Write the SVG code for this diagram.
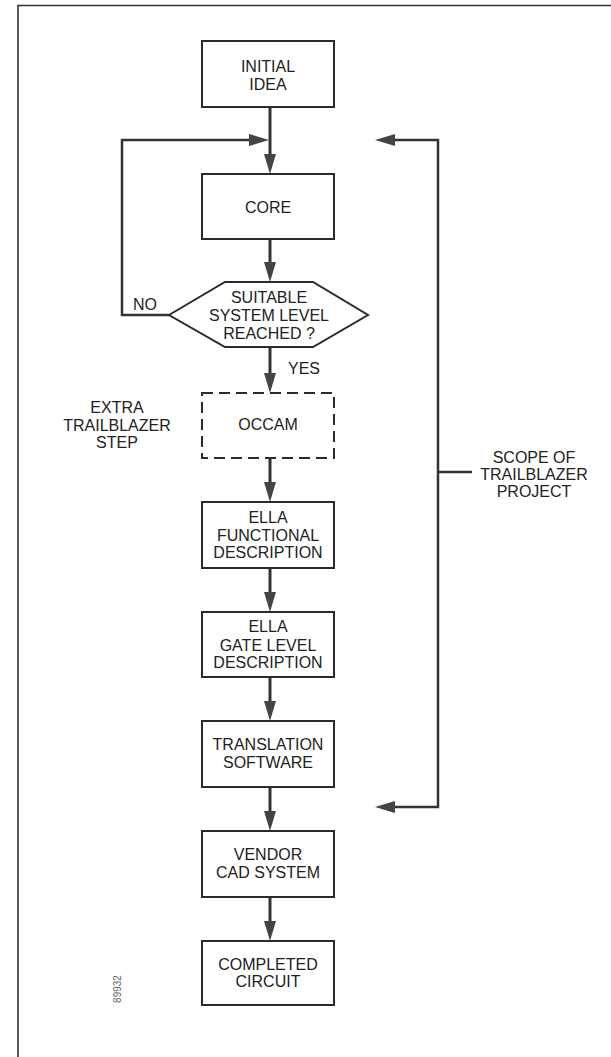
<svg xmlns="http://www.w3.org/2000/svg" width="611" height="1057" viewBox="0 0 611 1057">
  <defs>
    <style>
      .box { fill: #fff; stroke: #2a2a2a; stroke-width: 2; }
      .dash { fill: #fff; stroke: #2a2a2a; stroke-width: 2; stroke-dasharray: 11 6; }
      .lbl { font-family: "Liberation Sans", Arial, sans-serif; font-size: 16px; fill: #222; text-anchor: middle; }
      .flow { fill: none; stroke: #333; stroke-width: 3; }
      .thin { fill: none; stroke: #333; stroke-width: 2.5; }
      .frame { fill: none; stroke: #333; stroke-width: 1.6; }
    </style>
    <marker id="head" viewBox="0 0 20 12" refX="12" refY="6" markerWidth="20" markerHeight="12" markerUnits="userSpaceOnUse" orient="auto">
      <path d="M0,0 L20,6 L0,12 z" fill="#444"/>
    </marker>
  </defs>

  <rect width="611" height="1057" fill="#fff"/>

  <!-- page frame (top and left rules) -->
  <g id="frame">
    <path class="frame" d="M18,1057 V5.5 H611"/>
  </g>

  <!-- connectors -->
  <g id="connectors">
    <path class="flow" d="M270,107 V166" marker-end="url(#head)"/>
    <path class="flow" d="M270,239 V274" marker-end="url(#head)"/>
    <path class="flow" d="M270,347 V385" marker-end="url(#head)"/>
    <path class="flow" d="M270,458 V494" marker-end="url(#head)"/>
    <path class="flow" d="M270,568 V604" marker-end="url(#head)"/>
    <path class="flow" d="M270,677 V713" marker-end="url(#head)"/>
    <path class="flow" d="M270,787 V823" marker-end="url(#head)"/>
    <path class="flow" d="M270,897 V933" marker-end="url(#head)"/>
    <!-- NO loop back above CORE -->
    <path class="thin" d="M169,315 H122 V140 H261" marker-end="url(#head)"/>
    <!-- scope bracket -->
    <path class="thin" d="M438,473 V140 H383" marker-end="url(#head)"/>
    <path class="thin" d="M438,473 V807 H383" marker-end="url(#head)"/>
    <path class="thin" d="M438,472 H472"/>
  </g>

  <g id="initial-idea">
    <rect class="box" x="202" y="41" width="132" height="66"/>
    <text class="lbl" x="268" y="72">INITIAL</text>
    <text class="lbl" x="268" y="90">IDEA</text>
  </g>

  <g id="core">
    <rect class="box" x="202" y="174" width="132" height="65"/>
    <text class="lbl" x="268" y="213">CORE</text>
  </g>

  <g id="decision">
    <polygon class="box" points="169,315 225,282 313,282 368,315 313,347 225,347"/>
    <text class="lbl" x="269" y="303">SUITABLE</text>
    <text class="lbl" x="269" y="321">SYSTEM LEVEL</text>
    <text class="lbl" x="269" y="339">REACHED ?</text>
  </g>

  <g id="no-label">
    <text class="lbl" x="145" y="310">NO</text>
  </g>

  <g id="yes-label">
    <text class="lbl" x="304" y="374">YES</text>
  </g>

  <g id="occam">
    <rect class="dash" x="202" y="393" width="132" height="65"/>
    <text class="lbl" x="268" y="430">OCCAM</text>
  </g>

  <g id="extra-step">
    <text class="lbl" x="117" y="413">EXTRA</text>
    <text class="lbl" x="117" y="431">TRAILBLAZER</text>
    <text class="lbl" x="117" y="448">STEP</text>
  </g>

  <g id="ella-functional">
    <rect class="box" x="202" y="502" width="132" height="66"/>
    <text class="lbl" x="268" y="523">ELLA</text>
    <text class="lbl" x="268" y="541">FUNCTIONAL</text>
    <text class="lbl" x="268" y="558">DESCRIPTION</text>
  </g>

  <g id="ella-gate">
    <rect class="box" x="202" y="612" width="132" height="65"/>
    <text class="lbl" x="268" y="632">ELLA</text>
    <text class="lbl" x="268" y="651">GATE LEVEL</text>
    <text class="lbl" x="268" y="668">DESCRIPTION</text>
  </g>

  <g id="translation">
    <rect class="box" x="202" y="721" width="132" height="66"/>
    <text class="lbl" x="268" y="750">TRANSLATION</text>
    <text class="lbl" x="268" y="768">SOFTWARE</text>
  </g>

  <g id="vendor-cad">
    <rect class="box" x="202" y="831" width="132" height="66"/>
    <text class="lbl" x="268" y="860">VENDOR</text>
    <text class="lbl" x="268" y="878">CAD SYSTEM</text>
  </g>

  <g id="completed">
    <rect class="box" x="202" y="941" width="132" height="64"/>
    <text class="lbl" x="268" y="970">COMPLETED</text>
    <text class="lbl" x="268" y="987">CIRCUIT</text>
  </g>

  <g id="scope-label">
    <text class="lbl" x="534" y="463">SCOPE OF</text>
    <text class="lbl" x="534" y="480">TRAILBLAZER</text>
    <text class="lbl" x="534" y="497">PROJECT</text>
  </g>

  <g id="figure-number">
    <text x="0" y="0" transform="translate(121,989) rotate(-90)" font-family="'Liberation Sans', Arial, sans-serif" font-size="10" fill="#666" text-anchor="middle">89932</text>
  </g>
</svg>
